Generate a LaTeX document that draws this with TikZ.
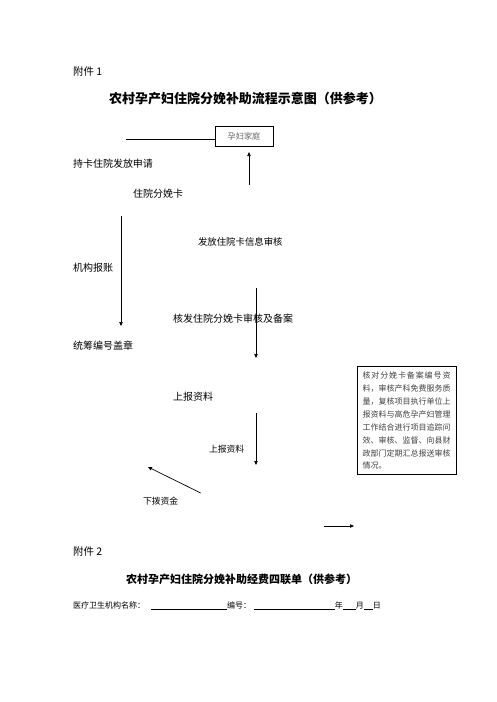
\documentclass[tikz,border=0pt]{standalone}
\usepackage{fontspec}
\setmainfont{Noto Sans CJK SC}
\usetikzlibrary{positioning, arrows.meta}
\tikzset{
every node/.style = {inner sep = 0pt, outer sep = 0pt, anchor = west},
annex/.style = {font = \fontsize{10.5}{12}\selectfont},
heading/.style = {font = \fontsize{13}{15}\selectfont\bfseries},
subheading/.style = {font = \fontsize{11}{13}\selectfont\bfseries},
steptext/.style = {font = \fontsize{10}{12}\selectfont},
smalltext/.style = {font = \fontsize{8.8}{11}\selectfont},
formtext/.style = {font = \fontsize{8}{10}\selectfont},
family/.style = {rectangle, draw, line width = 0.8pt, anchor = center,
   minimum width = 58pt, minimum height = 20pt, text = black!60,
   font = \fontsize{8.2}{10}\selectfont},
remark/.style = {rectangle, draw, line width = 0.8pt, anchor = north west,
   minimum width = 99pt, minimum height = 108pt, align = left, text = black!75,
   font = \fontsize{8}{12.9}\selectfont},
plain/.style = {line width = 0.7pt},
flow/.style = {-{Triangle[length = 4pt, width = 3.4pt]}, line width = 0.7pt}
}
\newcommand{\spreadline}[1]{\hbox to 88pt{#1}}
\begin{document}
\begin{tikzpicture}[x = 1pt, y = -1pt]
\useasboundingbox (0,0) rectangle (496,702);

%% Annex 1 and its title
\node [annex] (a1) at (73,72) {附件 1};
\node [heading] (t1) at (109,99) {农村孕产妇住院分娩补助流程示意图（供参考）};

%% The family box and the line into it
\node [family] (home) at (244,136.7) {孕妇家庭};
\coordinate (l0) at (126,139);
\path [plain] (l0) edge (l0 -| home.west);

%% Steps of the flow
\node [steptext] (apply) at (73,164) {持卡住院发放申请};
\node [steptext] (card) at (133,194) {住院分娩卡};
\node [smalltext, font = \fontsize{9.4}{11}\selectfont] (issue) at (198,242) {发放住院卡信息审核};
\node [steptext] (account) at (73,268) {机构报账};
\node [steptext] (review) at (173,319) {核发住院分娩卡审核及备案};
\node [steptext] (seal) at (73,345.7) {统筹编号盖章};
\node [steptext] (report1) at (173,397) {上报资料};
\node [smalltext] (report2) at (209,449) {上报资料};
\node [smalltext] (fund) at (143,501) {下拨资金};

%% Remark box
\node [remark] (note) at (357,366.7) {\spreadline{核\hfil 对\hfil 分\hfil 娩\hfil 卡\hfil 备\hfil 案\hfil 编\hfil 号\hfil 资}\\料，审核产科免费服务质\\量，复核项目执行单位上\\报资料与高危孕产妇管理\\工作结合进行项目追踪问\\效、审核、监督、向县财\\政部门定期汇总报送审核\\情况。};

%% Arrows
\coordinate (u0) at (249,185);
\coordinate (u1) at (249,152);
\path [flow] (u0) edge (u1);

\coordinate (d0) at (121,216);
\coordinate (d1) at (121,326);
\path [flow] (d0) edge (d1);

\coordinate (e0) at (256,288);
\coordinate (e1) at (256,358);
\path [flow] (e0) edge (e1);

\coordinate (f0) at (256,413);
\coordinate (f1) at (256,465);
\path [flow] (f0) edge (f1);

\coordinate (g0) at (200.7,493);
\coordinate (g1) at (148,467);
\path [flow] (g0) edge (g1);

\coordinate (h0) at (324,526);
\coordinate (h1) at (354,526);
\path [flow] (h0) edge (h1);

%% Annex 2
\node [annex] (a2) at (73,551.7) {附件 2};
\node [subheading] (t2) at (126,579) {农村孕产妇住院分娩补助经费四联单（供参考）};
\node [formtext] (form) at (73,605.7) {医疗卫生机构名称：\hspace{6pt}\underline{\hspace{76pt}}编号：\hspace{3pt}\underline{\hspace{81pt}}年\underline{\hspace{13pt}}月\underline{\hspace{9pt}}日};

\end{tikzpicture}
\end{document}
